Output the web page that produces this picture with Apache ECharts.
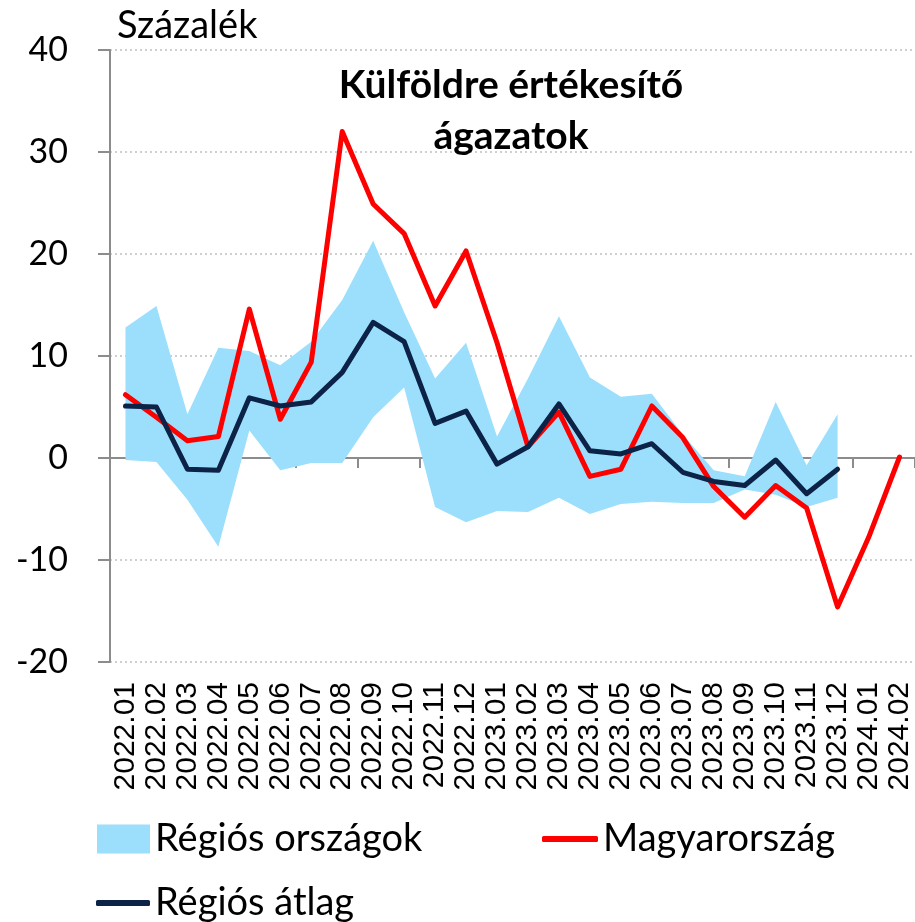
<!DOCTYPE html>
<html>
<head>
<meta charset="utf-8">
<script src="https://cdn.jsdelivr.net/npm/echarts@6/dist/echarts.min.js"></script>
<style>
  html, body { margin: 0; padding: 0; background: #fff; }
  #chart { width: 915px; height: 922px; }
</style>
</head>
<body>
<div id="chart"></div>
<script>
// ---------- data ----------
const months = [
  '2022.01', '2022.02', '2022.03', '2022.04', '2022.05', '2022.06', '2022.07',
  '2022.08', '2022.09', '2022.10', '2022.11', '2022.12', '2023.01', '2023.02',
  '2023.03', '2023.04', '2023.05', '2023.06', '2023.07', '2023.08', '2023.09',
  '2023.10', '2023.11', '2023.12', '2024.01', '2024.02'
];
const hungary = [6.2, 4.0, 1.7, 2.1, 14.6, 3.8, 9.4, 32.0, 24.9, 22.0, 14.9, 20.3, 11.3,
  1.1, 4.5, -1.8, -1.1, 5.1, 2.0, -2.8, -5.8, -2.7, -4.9, -14.6, -7.8, 0.1];
const regionAvg = [5.1, 5.0, -1.1, -1.2, 5.9, 5.1, 5.5, 8.4, 13.3, 11.4, 3.4, 4.6, -0.6,
  1.1, 5.3, 0.7, 0.4, 1.4, -1.4, -2.3, -2.7, -0.2, -3.5, -1.1, null, null];
const bandHigh = [12.8, 14.9, 4.3, 10.8, 10.5, 9.1, 11.4, 15.5, 21.3, 14.3, 7.8, 11.3, 2.1,
  7.8, 13.9, 7.9, 6.0, 6.3, 2.3, -1.2, -1.8, 5.5, -0.7, 4.3, null, null];
const bandLow = [-0.2, -0.4, -4.1, -8.7, 2.7, -1.2, -0.5, -0.5, 4.0, 6.9, -4.8, -6.3, -5.2,
  -5.3, -3.9, -5.5, -4.5, -4.3, -4.4, -4.4, -3.1, -3.6, -4.8, -3.9, null, null];
const yTicks = { min: -20, max: 40, interval: 10 };

// band = low (invisible) + (high - low) stacked on top
const bandSpan = bandHigh.map((h, i) => (h == null || bandLow[i] == null ? null : +(h - bandLow[i]).toFixed(2)));

const HUMAN = "Lato, 'Open Sans', sans-serif";
const SANS = "'Liberation Sans', Arial, sans-serif";
const AXIS_GRAY = '#8c8c8c';
const BAND_BLUE = '#9bdffc';
const RED = '#ff0000';
const NAVY = '#0c2246';

const chart = echarts.init(document.getElementById('chart'), null, { renderer: 'canvas' });

const legendText = { fontFamily: HUMAN, fontSize: 38, color: '#000' };

chart.setOption({
  animation: false,
  backgroundColor: '#fff',
  title: [
    {
      text: 'Százalék',
      left: 112, top: 2,
      textStyle: { fontFamily: HUMAN, fontSize: 38, fontWeight: 'normal', color: '#000' }
    },
    {
      text: 'Külföldre értékesítő\nágazatok',
      left: 506, top: 55,
      textAlign: 'center',
      textStyle: { fontFamily: HUMAN, fontSize: 39, fontWeight: 'bold', color: '#000', lineHeight: 51 }
    }
  ],
  legend: [
    { data: [{ name: 'Régiós országok', icon: 'rect' }], left: 92, top: 815, itemWidth: 53, itemHeight: 29, textStyle: legendText, selectedMode: false },
    { data: [{ name: 'Magyarország', icon: 'roundRect' }], left: 537, top: 815, itemWidth: 56, itemHeight: 6, textStyle: legendText, selectedMode: false },
    { data: [{ name: 'Régiós átlag', icon: 'roundRect' }], left: 91, top: 879, itemWidth: 54, itemHeight: 6, textStyle: legendText, selectedMode: false }
  ],
  grid: { left: 110, top: 50, width: 806, height: 612, containLabel: false },
  xAxis: [
    {
      // zero line with ticks between categories
      type: 'category',
      data: months,
      boundaryGap: true,
      axisLine: { onZero: true, lineStyle: { color: AXIS_GRAY, width: 2 } },
      axisTick: { show: true, length: 10, lineStyle: { color: AXIS_GRAY, width: 2 } },
      axisLabel: { show: false }
    },
    {
      // labels at the bottom
      type: 'category',
      data: months,
      position: 'bottom',
      boundaryGap: true,
      axisLine: { show: false, onZero: false },
      axisTick: { show: false },
      axisLabel: { rotate: 90, margin: 20, fontFamily: SANS, fontSize: 30, color: '#000', interval: 0 }
    }
  ],
  yAxis: {
    type: 'value',
    min: yTicks.min, max: yTicks.max, interval: yTicks.interval,
    axisLine: { show: true, lineStyle: { color: AXIS_GRAY, width: 2 } },
    axisTick: { show: true, length: 12, lineStyle: { color: AXIS_GRAY, width: 2 } },
    axisLabel: { margin: 42, fontFamily: HUMAN, fontSize: 34, color: '#000' },
    splitLine: { show: true, lineStyle: { color: '#cfcfcf', width: 2, type: [2, 3] } }
  },
  series: [
    {
      name: 'band-low',
      type: 'line',
      data: bandLow,
      stack: 'band',
      stackStrategy: 'all',
      symbol: 'none',
      lineStyle: { opacity: 0 },
      silent: true,
      z: 1
    },
    {
      name: 'Régiós országok',
      type: 'line',
      data: bandSpan,
      stack: 'band',
      stackStrategy: 'all',
      symbol: 'none',
      lineStyle: { opacity: 0 },
      itemStyle: { color: BAND_BLUE },
      areaStyle: { color: BAND_BLUE, opacity: 1 },
      silent: true,
      z: 1
    },
    {
      name: 'Magyarország',
      type: 'line',
      data: hungary,
      symbol: 'none',
      itemStyle: { color: RED },
      lineStyle: { color: RED, width: 5, cap: 'round', join: 'round' },
      z: 3
    },
    {
      name: 'Régiós átlag',
      type: 'line',
      data: regionAvg,
      symbol: 'none',
      itemStyle: { color: NAVY },
      lineStyle: { color: NAVY, width: 5, cap: 'round', join: 'round' },
      z: 4
    }
  ]
});
</script>
</body>
</html>
